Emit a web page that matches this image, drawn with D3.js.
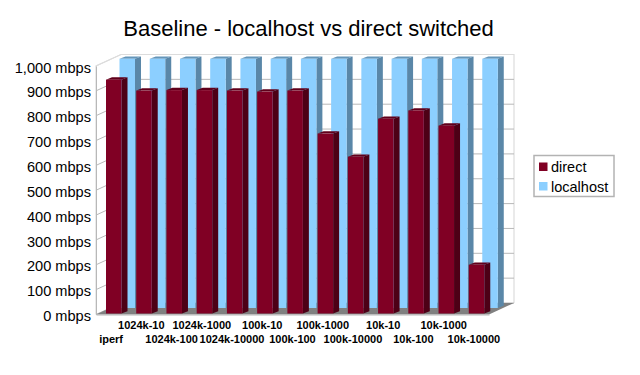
<!DOCTYPE html>
<html>
<head>
<meta charset="utf-8">
<script src="https://cdn.jsdelivr.net/npm/d3@7"></script>
<style>
  html, body { margin: 0; padding: 0; background: #fff; }
  svg { display: block; font-family: "Liberation Sans", Arial, sans-serif; }
</style>
</head>
<body>
<svg width="640" height="375"></svg>
<script>
const categories = ["iperf", "1024k-10", "1024k-100", "1024k-1000", "1024k-10000", "100k-10", "100k-100",
  "100k-1000", "100k-10000", "10k-10", "10k-100", "10k-1000", "10k-10000"];
const direct = [941, 897, 899, 899, 897, 893, 897, 724, 631, 784, 817, 756, 196];
const localhost = [1003, 1003, 1003, 1003, 1003, 1003, 1003, 1003, 1003, 1003, 1003, 1003, 1003];
const yTicks = [0, 100, 200, 300, 400, 500, 600, 700, 800, 900, 1000];
const seriesNames = ["direct", "localhost"];

const svg = d3.select("svg");

const x = d3.scaleBand().domain(categories).range([96, 489]);
const y = d3.scaleLinear().domain([0, 1000]).range([314.5, 66]);

// fake 3d: how far the back wall is shifted from the front plane
const depthX = 25, depthY = 11.5;

// back wall and left wall
const wall = svg.append("g");
wall.append("path")
  .attr("d", `M${x.range()[0]},${y(0)}L${x.range()[0]},${y(1000)}L${x.range()[0] + depthX},${y(1000) - depthY}L${x.range()[1] + depthX},${y(1000) - depthY}L${x.range()[1] + depthX},${y(0) - depthY}`)
  .attr("fill", "none")
  .attr("stroke", "#dcdcdc")
  .attr("stroke-width", 1.2);

// gridlines, along the left wall then across the back wall
yTicks.forEach(t => {
  wall.append("path")
    .attr("d", `M${x.range()[0]},${y(t)}L${x.range()[0] + depthX},${y(t) - depthY}L${x.range()[1] + depthX},${y(t) - depthY}`)
    .attr("fill", "none")
    .attr("stroke", t === 1000 ? "#dcdcdc" : "#b8b8b8")
    .attr("stroke-width", 1);
});

// floor
wall.append("path")
  .attr("d", `M${x.range()[0]},${y(0)}L${x.range()[0] + depthX},${y(0) - depthY}L${x.range()[1] + depthX},${y(0) - depthY}L${x.range()[1]},${y(0)}Z`)
  .attr("fill", "#808080");

// y axis labels
const yAxis = svg.append("g")
  .attr("transform", `translate(${x.range()[0]},0)`)
  .call(d3.axisLeft(y).tickValues(yTicks).tickSize(0).tickPadding(5).tickFormat(d => d3.format(",")(d) + " mbps"));
yAxis.select(".domain").attr("stroke", "#b8b8b8");
yAxis.selectAll("text")
  .attr("font-family", "Liberation Sans")
  .attr("font-size", 14.6)
  .attr("fill", "#000")
  .attr("dy", "0.42em");

// x axis labels, staggered on two rows
const xAxis = svg.append("g")
  .attr("transform", `translate(0,${y(0)})`)
  .call(d3.axisBottom(x).tickSize(0));
xAxis.select(".domain").attr("stroke", "#b8b8b8");
xAxis.selectAll("text")
  .attr("font-family", "Liberation Sans")
  .attr("font-size", 11)
  .attr("font-weight", "bold")
  .attr("fill", "#000")
  .attr("dy", 0)
  .attr("y", (d, i) => i % 2 ? 14.5 : 28);

const barWidth = 15.5, sideX = 6, sideY = 2.3;

function drawBars(values, offX, offY, colors) {
  const g = svg.append("g");
  values.forEach((v, i) => {
    const x0 = x(categories[i]) + offX;
    const x1 = x0 + barWidth;
    const yTop = y(v) - offY;
    const yBase = y(0) - offY;
    // right side
    g.append("path")
      .attr("d", `M${x1},${yTop}L${x1 + sideX},${yTop - sideY}L${x1 + sideX},${yBase - sideY}L${x1},${yBase}Z`)
      .attr("fill", colors.side);
    // top
    g.append("path")
      .attr("d", `M${x0},${yTop}L${x0 + sideX},${yTop - sideY}L${x1 + sideX},${yTop - sideY}L${x1},${yTop}Z`)
      .attr("fill", colors.top);
    // front
    g.append("rect")
      .attr("x", x0)
      .attr("y", yTop)
      .attr("width", barWidth)
      .attr("height", yBase - yTop)
      .attr("fill", colors.front);
  });
}

const directColors = { front: "#800024", side: "#4d0016", top: "#60001b" };
const localColors = { front: "#8ccfff", side: "#5a87a8", top: "#6496ba" };

// back series first so the front one covers it
drawBars(localhost, 23.5, 6.5, localColors);
drawBars(direct, 10, 1, directColors);

// title
svg.append("text")
  .attr("x", 308.5)
  .attr("y", 36)
  .attr("text-anchor", "middle")
  .attr("font-size", 22)
  .attr("fill", "#000")
  .text("Baseline - localhost vs direct switched");

// legend
const legend = svg.append("g");
legend.append("rect")
  .attr("x", 534)
  .attr("y", 155.5)
  .attr("width", 80)
  .attr("height", 41)
  .attr("fill", "#fff")
  .attr("stroke", "#b3b3b3")
  .attr("stroke-width", 1.5);
seriesNames.forEach((name, i) => {
  legend.append("rect")
    .attr("x", 539)
    .attr("y", 162.5 + i * 19.5)
    .attr("width", 8.5)
    .attr("height", 8.5)
    .attr("fill", i ? localColors.front : directColors.front);
  legend.append("text")
    .attr("x", 551)
    .attr("y", 172 + i * 19.5)
    .attr("font-size", 14.5)
    .attr("fill", "#000")
    .text(name);
});
</script>
</body>
</html>
